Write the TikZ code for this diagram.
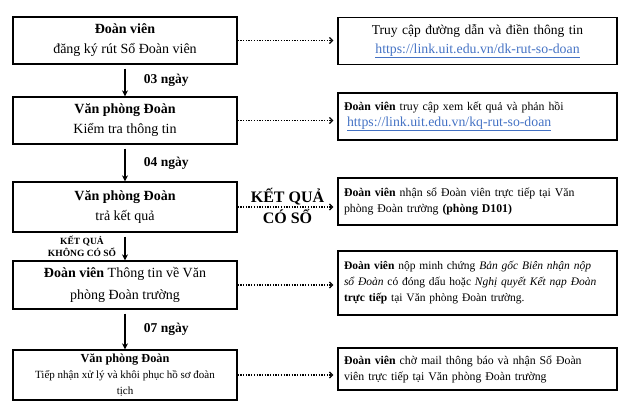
\documentclass[tikz,border=0pt]{standalone}
\usepackage{fontspec}
\setmainfont{Liberation Serif}
\usepackage{xcolor}
\usetikzlibrary{positioning,arrows.meta}
\definecolor{linkblue}{HTML}{4472C4}
\newcommand{\weblink}[1]{{\fontsize{13.8}{19}\selectfont\textcolor{linkblue}{\underline{#1}}}}

\begin{document}
\begin{tikzpicture}[
        node distance=80pt,
        stepbox/.style={
            rectangle,
            draw=black,
            line width=1.3pt,
            align=center,
            minimum width=224pt,
            minimum height=47pt,
            font=\fontsize{14}{20}\selectfont
        },
        notebox/.style={
            rectangle,
            draw=black,
            line width=1.3pt,
            align=left,
            text width=267pt,
            minimum width=279pt,
            minimum height=47pt,
            font=\fontsize{11.8}{16}\selectfont
        },
        arrow/.style={
            -{Stealth[length=6pt,width=6pt]},
            line width=1.2pt,
            shorten <=4pt
        },
        dotarrow/.style={
            dash pattern=on 1.3pt off 1.4pt,
            line width=1.3pt,
            -{Straight Barb[length=3pt,width=6pt]},
            shorten >=4pt
        },
        daylabel/.style={
            font=\bfseries\fontsize{13.5}{15}\selectfont
        }
    ]
        \useasboundingbox (0,0) rectangle (624pt,-414pt);

        % left column
        \node (reg) at (125pt,-40.5pt) [stepbox] {\textbf{Đoàn viên}\\đăng ký rút Sổ Đoàn viên};
        \node (check) [stepbox, below of=reg] {\textbf{Văn phòng Đoàn}\\Kiểm tra thông tin};
        \node (result) [stepbox, below of=check, node distance=86.5pt, minimum height=50pt] {\textbf{Văn phòng Đoàn}\\trả kết quả};
        \node (info) [stepbox, below of=result, node distance=78pt, minimum height=48pt, font=\fontsize{14}{22}\selectfont] {\textbf{Đoàn viên} Thông tin về Văn\\phòng Đoàn trường};
        \node (restore) [stepbox, below of=info, node distance=90pt, minimum height=50pt, font=\fontsize{11}{16}\selectfont] {{\fontsize{12.3}{16}\selectfont\textbf{Văn phòng Đoàn}}\\Tiếp nhận xử lý và khôi phục hồ sơ đoàn\\tịch};

        % right column
        \node (regnote) [notebox, right of=reg, node distance=352.5pt, yshift=-0.5pt, align=center, font=\fontsize{13.5}{19}\selectfont] {Truy cập đường dẫn và điền thông tin\\\weblink{https://link.uit.edu.vn/dk-rut-so-doan}};
        \node (checknote) [notebox, right of=check, node distance=352.5pt, yshift=4pt] {\textbf{Đoàn viên} truy cập xem kết quả và phản hồi\\\hspace*{3pt}\weblink{https://link.uit.edu.vn/kq-rut-so-doan}};
        \node (resultnote) [notebox, right of=result, node distance=352.5pt, yshift=5.5pt] {\textbf{Đoàn viên} nhận sổ Đoàn viên trực tiếp tại Văn\\phòng Đoàn trường \textbf{(phòng D101)}};
        \node (infonote) [notebox, right of=info, node distance=352.5pt, yshift=2pt, minimum height=64pt, font=\fontsize{11.5}{16}\selectfont] {\textbf{Đoàn viên} nộp minh chứng \textit{Bản gốc Biên nhận nộp}\\\textit{sổ Đoàn} có đóng dấu hoặc \textit{Nghị quyết Kết nạp Đoàn}\\\textbf{trực tiếp} tại Văn phòng Đoàn trường.};
        \node (restorenote) [notebox, right of=restore, node distance=352.5pt, yshift=6pt, minimum height=42pt] {\textbf{Đoàn viên} chờ mail thông báo và nhận Sổ Đoàn\\viên trực tiếp tại Văn phòng Đoàn trường};

        % flow
        \draw[arrow] (reg) -- node[midway, right=15pt, daylabel] {03 ngày} (check);
        \draw[arrow] (check) -- node[midway, right=15pt, daylabel] {04 ngày} (result);
        \draw[arrow] (result) -- node[midway, left=5pt, align=center, font=\bfseries\fontsize{9.5}{12}\selectfont] {KẾT QUẢ\\KHÔNG CÓ SỔ} (info);
        \draw[arrow] (info) -- node[midway, right=15pt, daylabel] {07 ngày} (restore);

        % notes
        \draw[dotarrow] (reg.east) -- (reg.east -| regnote.west);
        \draw[dotarrow] (check.east) -- (check.east -| checknote.west);
        \draw[dotarrow] (result.east) -- node[midway, above=-2pt, font=\bfseries\fontsize{16}{18}\selectfont] {KẾT QUẢ} node[midway, below=-2pt, font=\bfseries\fontsize{16}{18}\selectfont] {CÓ SỔ} (result.east -| resultnote.west);
        \draw[dotarrow] (info.east) -- (info.east -| infonote.west);
        \draw[dotarrow] (restore.east) -- (restore.east -| restorenote.west);
    \end{tikzpicture}
\end{document}
